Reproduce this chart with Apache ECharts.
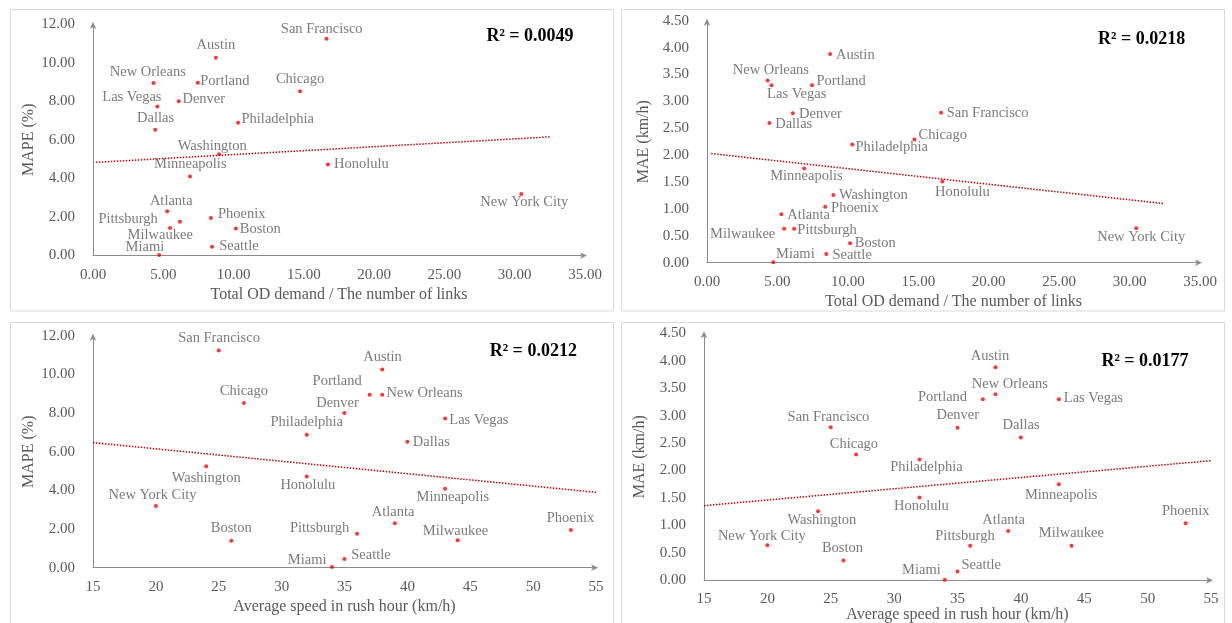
<!DOCTYPE html>
<html>
<head>
<meta charset="utf-8">
<script src="https://cdn.jsdelivr.net/npm/echarts@6/dist/echarts.min.js"></script>
<style>
html,body{margin:0;padding:0;background:#fff;}
#main{width:1232px;height:623px;}
</style>
</head>
<body>
<div id="main"></div>
<script>
// ---------- DATA ----------
const cities = ['Austin','New Orleans','Portland','Las Vegas','Denver','Dallas','Philadelphia','Chicago','Washington','Minneapolis','Atlanta','Pittsburgh','Milwaukee','Miami','Phoenix','Boston','Seattle','San Francisco','Honolulu','New York City'];
const odRatio = [8.74, 4.31, 7.46, 4.58, 6.10, 4.43, 10.32, 14.73, 8.97, 6.90, 5.28, 6.18, 5.48, 4.71, 8.39, 10.16, 8.47, 16.62, 16.71, 30.47];
const avgSpeed = [38, 38, 37, 43, 35, 40, 32, 27, 24, 43, 39, 36, 44, 34, 53, 26, 35, 25, 32, 20];
const mape = [10.25, 8.94, 8.95, 7.72, 8.00, 6.52, 6.88, 8.52, 5.25, 4.09, 2.30, 1.75, 1.42, 0.03, 1.95, 1.40, 0.45, 11.23, 4.72, 3.19];
const mae = [3.88, 3.39, 3.30, 3.30, 2.78, 2.60, 2.20, 2.29, 1.26, 1.75, 0.90, 0.63, 0.63, 0.01, 1.04, 0.36, 0.16, 2.79, 1.51, 0.64];

const trendMapeOd = [[0.2, 4.83], [32.5, 6.15]];
const trendMaeOd = [[0.3, 2.03], [32.4, 1.10]];
const trendMapeSpeed = [[15, 6.47], [55, 3.90]];
const trendMaeSpeed = [[15, 1.36], [55, 2.18]];

const r2Texts = ['R\u00B2 = 0.0049', 'R\u00B2 = 0.0218', 'R\u00B2 = 0.0212', 'R\u00B2 = 0.0177'];
const xTitles = ['Total OD demand / The number of links', 'Total OD demand / The number of links', 'Average speed in rush hour (km/h)', 'Average speed in rush hour (km/h)'];
const yTitles = ['MAPE (%)', 'MAE (km/h)', 'MAPE (%)', 'MAE (km/h)'];

// ---------- LAYOUT (label offsets relative to each dot, px) ----------
const labelOffsets = [
  { 'Austin':[0,-12.3],'New Orleans':[-5.8,-10.7],'Portland':[27,-1.7],'Las Vegas':[-25.5,-9.3],'Denver':[25,-1.7],'Dallas':[0.3,-11.7],'Philadelphia':[39.7,-3.3],'Chicago':[0,-11.7],'Washington':[-6.8,-8],'Minneapolis':[0.3,-12],'Atlanta':[4,-10.3],'Pittsburgh':[-51.8,-2.3],'Milwaukee':[-9.8,6.7],'Miami':[-14.3,-8],'Phoenix':[30.8,-3.7],'Boston':[24.5,0.3],'Seattle':[26.8,-1],'San Francisco':[-4.9,-9.7],'Honolulu':[33.5,0],'New York City':[3,8.7] },
  { 'Austin':[25.2,1],'New Orleans':[3.2,-10.3],'Portland':[29,-4],'Las Vegas':[25.2,8.7],'Denver':[27.5,0.7],'Dallas':[24.3,1],'Philadelphia':[39.3,3],'Chicago':[28.3,-4],'Washington':[40,0.7],'Minneapolis':[2.2,7.3],'Atlanta':[27.3,0.7],'Pittsburgh':[33,1],'Milwaukee':[-41.5,5],'Miami':[22,-8],'Phoenix':[29.7,1.3],'Boston':[25.2,0],'Seattle':[25.8,0.7],'San Francisco':[46.5,0.3],'Honolulu':[20,10.7],'New York City':[5,9] },
  { 'Austin':[0.3,-12],'New Orleans':[42.3,-1.3],'Portland':[-32.5,-13.3],'Las Vegas':[33.8,2],'Denver':[-7,-10.3],'Dallas':[24,0.7],'Philadelphia':[0,-12.3],'Chicago':[0,-12],'Washington':[0,11.7],'Minneapolis':[7.7,8.7],'Atlanta':[-1.7,-10.7],'Pittsburgh':[-37.5,-6],'Milwaukee':[-2.2,-9],'Miami':[-24.8,-7.3],'Phoenix':[-0.3,-12],'Boston':[0,-12],'Seattle':[26.5,-3.7],'San Francisco':[0.3,-12],'Honolulu':[1,8.3],'New York City':[-3.3,-10.7] },
  { 'Austin':[-5.5,-11.3],'New Orleans':[14.3,-9.7],'Portland':[-40.3,-1.7],'Las Vegas':[34.5,-0.7],'Denver':[0.3,-12.3],'Dallas':[0.2,-12],'Philadelphia':[6.9,7.6],'Chicago':[-2.2,-10],'Washington':[3.8,9.3],'Minneapolis':[2.3,11.3],'Atlanta':[-4.5,-11],'Pittsburgh':[-5.2,-9.7],'Milwaukee':[-0.2,-12.3],'Miami':[-23.4,-9.3],'Phoenix':[0,-11.7],'Boston':[-1,-12],'Seattle':[23.7,-6.3],'San Francisco':[-2.3,-10],'Honolulu':[1.9,8.6],'New York City':[-5.5,-9.3] }
];

const FONT = "'Liberation Serif', 'Times New Roman', serif";
const GRAY = '#595959';
const AXIS = '#8c8c8c';

const grids = [
  { left: 93, top: 24, width: 492, height: 231.5 },
  { left: 707, top: 20.7, width: 493, height: 242 },
  { left: 93, top: 335.7, width: 503, height: 232 },
  { left: 704, top: 333.3, width: 507, height: 247 }
];
const panels = [
  { x: 10.5, y: 9.5, w: 603, h: 301.5 },
  { x: 621.5, y: 9.5, w: 603, h: 301.5 },
  { x: 10.5, y: 322.5, w: 603, h: 320 },
  { x: 621.5, y: 322.5, w: 603, h: 320 }
];
const r2Pos = [[530, 36], [1141.7, 39], [533.3, 351], [1145, 361]];
const xNameGap = [31, 31, 31, 23];
const xLabelMargin = [12, 12, 12, 11];
const yNameGap = [56, 55, 56, 56];

const xSets = [odRatio, odRatio, avgSpeed, avgSpeed];
const ySets = [mape, mae, mape, mae];
const trends = [trendMapeOd, trendMaeOd, trendMapeSpeed, trendMaeSpeed];

const xAxisCfg = [
  { min: 0, max: 35, interval: 5, dec: 2 },
  { min: 0, max: 35, interval: 5, dec: 2 },
  { min: 15, max: 55, interval: 5, dec: 0 },
  { min: 15, max: 55, interval: 5, dec: 0 }
];
const yAxisCfg = [
  { min: 0, max: 12, interval: 2 },
  { min: 0, max: 4.5, interval: 0.5 },
  { min: 0, max: 12, interval: 2 },
  { min: 0, max: 4.5, interval: 0.5 }
];

const axisLine = { show: true, lineStyle: { color: AXIS, width: 1 }, symbol: ['none', 'arrow'], symbolSize: [5, 7], symbolOffset: [0, 2] };

const option = {
  backgroundColor: '#ffffff',
  animation: false,
  grid: grids.map(g => Object.assign({ containLabel: false, outerBoundsMode: 'none' }, g)),
  xAxis: xAxisCfg.map((c, i) => ({
    type: 'value', gridIndex: i, min: c.min, max: c.max, interval: c.interval,
    axisLine: axisLine, axisTick: { show: false }, splitLine: { show: false },
    axisLabel: { color: GRAY, fontFamily: FONT, fontSize: 15, margin: xLabelMargin[i], formatter: v => v.toFixed(c.dec) },
    name: xTitles[i], nameLocation: 'middle', nameGap: xNameGap[i],
    nameTextStyle: { color: GRAY, fontFamily: FONT, fontSize: 16 }
  })),
  yAxis: yAxisCfg.map((c, i) => ({
    type: 'value', gridIndex: i, min: c.min, max: c.max, interval: c.interval,
    axisLine: axisLine, axisTick: { show: false }, splitLine: { show: false },
    axisLabel: { color: GRAY, fontFamily: FONT, fontSize: 15, margin: 18, formatter: v => v.toFixed(2) },
    name: yTitles[i], nameLocation: 'middle', nameGap: yNameGap[i],
    nameTextStyle: { color: GRAY, fontFamily: FONT, fontSize: 16 }
  })),
  series: [],
  graphic: []
};

for (let i = 0; i < 4; i++) {
  option.series.push({
    type: 'scatter', xAxisIndex: i, yAxisIndex: i,
    symbol: 'circle', symbolSize: 4,
    itemStyle: { color: '#ff0000' },
    label: {
      show: true, position: 'inside', color: GRAY, fontFamily: FONT, fontSize: 14.5,
      align: 'center', verticalAlign: 'middle',
      formatter: p => p.name
    },
    z: 3,
    data: cities.map((c, k) => ({
      name: c,
      value: [xSets[i][k], ySets[i][k]],
      label: { offset: labelOffsets[i][c] }
    }))
  });
  option.series.push({
    type: 'line', xAxisIndex: i, yAxisIndex: i,
    symbol: 'none', silent: true,
    lineStyle: { color: '#c00000', width: 1.5, type: 'dotted' },
    data: trends[i],
    z: 2
  });
  option.graphic.push({
    type: 'rect', z: -10, silent: true,
    shape: { x: panels[i].x, y: panels[i].y, width: panels[i].w, height: panels[i].h },
    style: { fill: '#ffffff', stroke: '#d9d9d9', lineWidth: 1 }
  });
  option.graphic.push({
    type: 'text', z: 10, silent: true,
    x: r2Pos[i][0], y: r2Pos[i][1],
    style: {
      text: r2Texts[i], fill: '#000000',
      font: "bold 18px 'Liberation Serif', 'Times New Roman', serif",
      align: 'center', verticalAlign: 'middle',
      textAlign: 'center', textVerticalAlign: 'middle'
    }
  });
}

const chart = echarts.init(document.getElementById('main'), null, { renderer: 'canvas' });
chart.setOption(option);
</script>
</body>
</html>
